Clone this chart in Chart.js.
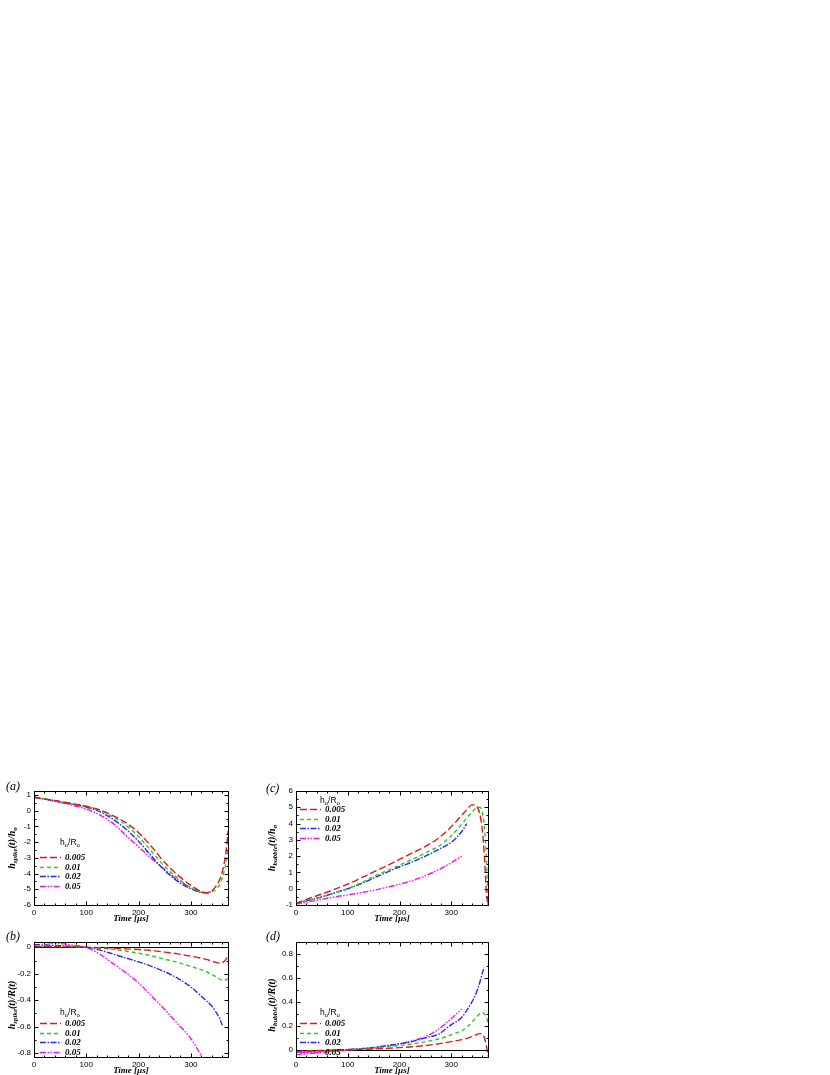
<!DOCTYPE html>
<html>
<head>
<meta charset="utf-8">
<script src="https://cdn.jsdelivr.net/npm/chart.js@4.4.1/dist/chart.umd.min.js"></script>
<style>
html, body { margin: 0; padding: 0; background: #fff; overflow: hidden; width: 830px; height: 1075px; }
canvas { position: absolute; }
</style>
</head>
<body>
<canvas id="ca" width="250" height="210" style="left:0px;top:725px"></canvas>
<canvas id="cc" width="250" height="210" style="left:260px;top:725px"></canvas>
<canvas id="cb" width="250" height="195" style="left:0px;top:880px"></canvas>
<canvas id="cd" width="250" height="195" style="left:260px;top:880px"></canvas>
<script>
// time grid [µs]
const time = [0, 25, 50, 75, 100, 125, 150, 175, 200, 225, 250, 275, 300, 320, 330, 340, 348, 355, 360, 364, 368, 371];
const ratios = ['0.005', '0.01', '0.02', '0.05'];

// (a) h_spike(t)/h_o
const spikeH_005 = [0.85, 0.72, 0.58, 0.44, 0.28, 0.06, -0.3, -0.75, -1.4, -2.3, -3.3, -4.1, -4.75, -5.15, -5.22, -5.1, -4.8, -4.4, -3.9, -3.3, -2.4, -1.3];
const spikeH_01 = [0.85, 0.72, 0.57, 0.42, 0.26, 0.03, -0.38, -0.9, -1.65, -2.6, -3.55, -4.3, -4.9, -5.2, -5.22, -5.15, -5.0, -4.7, -4.3, -3.8, -3.2, -2.5];
const spikeH_02 = [0.85, 0.72, 0.56, 0.4, 0.22, -0.05, -0.52, -1.15, -1.95, -2.9, -3.8, -4.5, -4.97, -5.2, -5.22, -5.15];
const spikeH_05 = [0.85, 0.7, 0.52, 0.33, 0.1, -0.25, -0.78, -1.55, -2.3, -3.05, -3.75, -4.4, -4.9, -5.15];

// (b) h_spike(t)/R(t)
const spikeR_005 = [0.005, 0.005, 0.004, 0.002, 0, -0.003, -0.007, -0.012, -0.017, -0.025, -0.037, -0.05, -0.067, -0.083, -0.092, -0.105, -0.115, -0.12, -0.118, -0.105, -0.085, -0.06];
const spikeR_01 = [0.01, 0.009, 0.007, 0.004, 0, -0.006, -0.015, -0.028, -0.045, -0.065, -0.09, -0.115, -0.145, -0.17, -0.185, -0.205, -0.222, -0.24, -0.25, -0.25, -0.245, -0.235];
const spikeR_02 = [0.02, 0.017, 0.012, 0.006, 0, -0.02, -0.05, -0.08, -0.11, -0.145, -0.185, -0.235, -0.3, -0.37, -0.405, -0.445, -0.49, -0.54, -0.59];
const spikeR_05 = [0.04, 0.035, 0.028, 0.015, 0, -0.05, -0.12, -0.19, -0.27, -0.37, -0.47, -0.58, -0.69, -0.82];

// (c) h_bubble(t)/h_o
const bubbleH_005 = [-0.9, -0.6, -0.33, -0.03, 0.28, 0.65, 1.03, 1.4, 1.8, 2.2, 2.6, 3.1, 3.8, 4.5, 4.85, 5.15, 5.1, 4.6, 3.6, 2.0, -0.3, -1.0];
const bubbleH_01 = [-0.9, -0.7, -0.5, -0.25, 0.0, 0.35, 0.75, 1.1, 1.45, 1.8, 2.2, 2.6, 3.25, 3.95, 4.35, 4.7, 4.95, 5.0, 4.7, 3.8, 1.8, -1.0];
const bubbleH_02 = [-0.9, -0.7, -0.5, -0.25, 0.0, 0.3, 0.65, 1.0, 1.35, 1.65, 2.0, 2.4, 2.85, 3.5, 4.0];
const bubbleH_05 = [-0.95, -0.8, -0.65, -0.5, -0.38, -0.25, -0.1, 0.08, 0.27, 0.5, 0.8, 1.15, 1.6, 2.0];

// (d) h_bubble(t)/R(t)
const bubbleR_005 = [-0.01, -0.008, -0.005, -0.002, 0, 0.003, 0.007, 0.012, 0.018, 0.026, 0.036, 0.05, 0.068, 0.085, 0.095, 0.11, 0.125, 0.135, 0.13, 0.1, 0.03, -0.05];
const bubbleR_01 = [-0.02, -0.016, -0.011, -0.006, 0, 0.007, 0.015, 0.025, 0.036, 0.05, 0.068, 0.09, 0.125, 0.16, 0.19, 0.23, 0.27, 0.3, 0.31, 0.3, 0.27, 0.23];
const bubbleR_02 = [-0.02, -0.015, -0.01, -0.004, 0.003, 0.01, 0.02, 0.035, 0.05, 0.07, 0.1, 0.13, 0.21, 0.27, 0.33, 0.4, 0.47, 0.56, 0.64, 0.69];
const bubbleR_05 = [-0.04, -0.032, -0.022, -0.012, -0.003, 0.006, 0.017, 0.032, 0.05, 0.075, 0.11, 0.17, 0.26, 0.34];

const colors = ['#e01818', '#28cc28', '#2a2af0', '#f014f0'];
const dashes = [[7, 3], [4, 3], [6, 1.5, 1.5, 1.5], [6, 1.5, 1.5, 1.5, 1.5, 1.5]];

const serif = "'Liberation Serif', 'Times New Roman', serif";
const sans = "'Liberation Sans', Arial, sans-serif";

function makeDatasets(series) {
    return series.map((vals, i) => ({
        label: ratios[i],
        data: vals.map((v, k) => ({ x: time[k], y: v })),
        borderColor: colors[i],
        borderDash: dashes[i],
        borderWidth: 1.4,
        pointRadius: 0,
        fill: false,
        cubicInterpolationMode: 'monotone'
    }));
}

// draws text made of [text, isSubscript] parts, centred on x
function drawRich(ctx, parts, x, y, size, font, weight) {
    const fontOf = sub => `${weight} ${sub ? Math.round(size * 0.68) : size}px ${font}`;
    let w = 0;
    parts.forEach(p => { ctx.font = fontOf(p[1]); w += ctx.measureText(p[0]).width; });
    let cx = x - w / 2;
    parts.forEach(p => {
        ctx.font = fontOf(p[1]);
        ctx.fillText(p[0], cx, y + (p[1] ? size * 0.3 : 0));
        cx += ctx.measureText(p[0]).width;
    });
}

function stepValues(min, max, step) {
    const out = [];
    for (let k = Math.ceil(min / step - 1e-9); k * step <= max + 1e-9; k++) out.push(k * step);
    return out;
}

const deco = {
    id: 'deco',
    beforeDatasetsDraw(chart, args, o) {
        if (!o.zero) return;
        const { ctx, chartArea: a, scales } = chart;
        const y0 = Math.round(scales.y.getPixelForValue(0)) + 0.5;
        ctx.save();
        ctx.strokeStyle = '#000';
        ctx.lineWidth = 1;
        ctx.beginPath();
        ctx.moveTo(a.left, y0);
        ctx.lineTo(a.right, y0);
        ctx.stroke();
        ctx.restore();
    },
    afterDraw(chart, args, o) {
        const { ctx, chartArea: a, scales: { x, y } } = chart;
        ctx.save();
        ctx.strokeStyle = '#000';
        ctx.lineWidth = 1;
        const L = Math.round(a.left) + 0.5, R = Math.round(a.right) + 0.5;
        const T = Math.round(a.top) + 0.5, B = Math.round(a.bottom) + 0.5;
        ctx.strokeRect(L, T, R - L, B - T);

        // inward tick marks on all four sides
        ctx.beginPath();
        [[100, 4], [20, 2]].forEach(([step, len]) => {
            stepValues(x.min, x.max, step).forEach(v => {
                const px = Math.round(x.getPixelForValue(v)) + 0.5;
                ctx.moveTo(px, B); ctx.lineTo(px, B - len);
                ctx.moveTo(px, T); ctx.lineTo(px, T + len);
            });
        });
        [[o.ystep, 4], [o.yminor, 2]].forEach(([step, len]) => {
            stepValues(y.min, y.max, step).forEach(v => {
                const py = Math.round(y.getPixelForValue(v)) + 0.5;
                ctx.moveTo(L, py); ctx.lineTo(L + len, py);
                ctx.moveTo(R, py); ctx.lineTo(R - len, py);
            });
        });
        ctx.stroke();

        ctx.fillStyle = '#000';
        ctx.textBaseline = 'middle';

        // panel label
        ctx.font = `italic 12px ${serif}`;
        ctx.textAlign = 'left';
        ctx.fillText(o.label, 6, o.labelY);

        // x title
        ctx.font = `italic bold 9px ${serif}`;
        ctx.textAlign = 'center';
        ctx.fillText('Time [µs]', (a.left + a.right) / 2, a.bottom + 14);

        // y title, rotated
        ctx.save();
        ctx.translate(12, o.ytitleY);
        ctx.rotate(-Math.PI / 2);
        ctx.textAlign = 'left';
        drawRich(ctx, o.ytitle, 0, 0, 10, serif, 'italic bold');
        ctx.restore();

        // legend
        ctx.textAlign = 'left';
        drawRich(ctx, [['h', 0], ['o', 1], ['/R', 0], ['o', 1]], 70, o.legTitleY, 8.5, sans, 'normal');
        chart.data.datasets.forEach((ds, i) => {
            const ly = Math.round(o.legRowY + i * 9.7) + 0.5;
            ctx.save();
            ctx.strokeStyle = ds.borderColor;
            ctx.lineWidth = 1.4;
            ctx.setLineDash(ds.borderDash);
            ctx.beginPath();
            ctx.moveTo(40, ly);
            ctx.lineTo(61, ly);
            ctx.stroke();
            ctx.restore();
            ctx.font = `italic bold 9px ${serif}`;
            ctx.fillText(ds.label, 65, ly);
        });
        ctx.restore();
    }
};

const panels = [
    { id: 'ca', label: '(a)', labelY: 62, series: [spikeH_005, spikeH_01, spikeH_02, spikeH_05],
      ymin: -6, ymax: 1.25, ystep: 1, yminor: 0.5, top: 66, xh: 30, yw: 34,
      ytitle: [['h', 0], ['spike', 1], ['(t)/h', 0], ['o', 1]], ytitleY: 123,
      legTitleY: 118, legRowY: 132, zero: false },
    { id: 'cc', label: '(c)', labelY: 64, series: [bubbleH_005, bubbleH_01, bubbleH_02, bubbleH_05],
      ymin: -1, ymax: 6, ystep: 1, yminor: 0.5, top: 66, xh: 30, yw: 36,
      ytitle: [['h', 0], ['bubble', 1], ['(t)/h', 0], ['o', 1]], ytitleY: 123,
      legTitleY: 76, legRowY: 84, zero: false },
    { id: 'cb', label: '(b)', labelY: 57, series: [spikeR_005, spikeR_01, spikeR_02, spikeR_05],
      ymin: -0.83, ymax: 0.04, ystep: 0.2, yminor: 0.1, top: 62, xh: 18, yw: 34,
      ytitle: [['h', 0], ['spike', 1], ['(t)/R(t)', 0]], ytitleY: 125,
      legTitleY: 133, legRowY: 143, zero: true },
    { id: 'cd', label: '(d)', labelY: 57, series: [bubbleR_005, bubbleR_01, bubbleR_02, bubbleR_05],
      ymin: -0.06, ymax: 0.9, ystep: 0.2, yminor: 0.1, top: 62, xh: 18, yw: 36,
      ytitle: [['h', 0], ['bubble', 1], ['(t)/R(t)', 0]], ytitleY: 125,
      legTitleY: 133, legRowY: 143, zero: true }
];

panels.forEach(p => {
    new Chart(document.getElementById(p.id), {
        type: 'line',
        data: { datasets: makeDatasets(p.series) },
        plugins: [deco],
        options: {
            responsive: false,
            animation: false,
            locale: 'en-US',
            layout: { padding: { left: 0, top: p.top, right: 22, bottom: 0 } },
            plugins: {
                legend: { display: false },
                tooltip: { enabled: false },
                deco: p
            },
            scales: {
                x: {
                    type: 'linear', min: 0, max: 371,
                    grid: { display: false, drawTicks: false },
                    border: { display: false },
                    ticks: { stepSize: 100, includeBounds: false, padding: 3, color: '#000', font: { family: sans, size: 8 }, maxRotation: 0 },
                    afterFit: s => { s.height = p.xh; }
                },
                y: {
                    type: 'linear', min: p.ymin, max: p.ymax,
                    grid: { display: false, drawTicks: false },
                    border: { display: false },
                    ticks: { stepSize: p.ystep, includeBounds: false, padding: 3, color: '#000', font: { family: sans, size: 8 } },
                    afterFit: s => { s.width = p.yw; }
                }
            }
        }
    });
});
</script>
</body>
</html>
